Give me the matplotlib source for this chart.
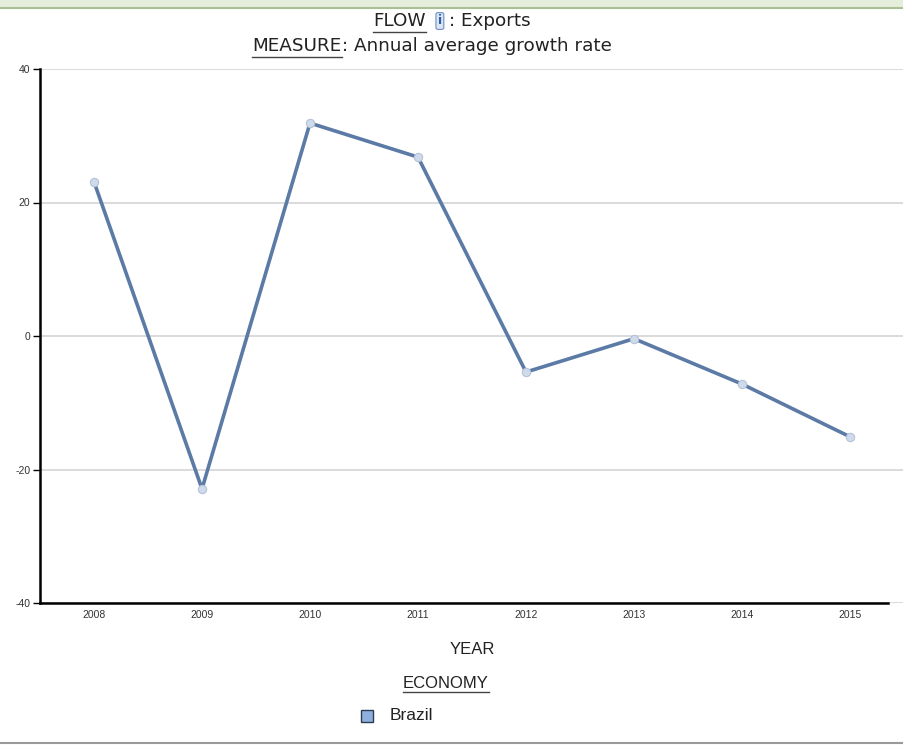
import numpy as np
import matplotlib.pyplot as plt
from matplotlib.patches import Rectangle
from matplotlib.lines import Line2D

plt.rcParams['axes.unicode_minus'] = False

# ---- data ----
years = [2008, 2009, 2010, 2011, 2012, 2013, 2014, 2015]
growth = [23.1, -22.9, 31.9, 26.8, -5.4, -0.4, -7.2, -15.1]
y_ticks = [-40, -20, 0, 20, 40]
series_name = "Brazil"

W, H = 904, 747
NARROW = ['Liberation Sans', 'DejaVu Sans']
fig = plt.figure(figsize=(W / 100, H / 100), dpi=100)
fig.patch.set_facecolor('white')

def px(x, y):
    return x / W, 1 - y / H

# green band at top, grey rule at bottom
fig.add_artist(Rectangle((0, 1 - 8 / H), 1, 8 / H, transform=fig.transFigure,
                         facecolor='#e4eedb', edgecolor='none'))
fig.add_artist(Line2D([0, 1], [1 - 8 / H] * 2, transform=fig.transFigure,
                      color='#a9bf96', lw=1.5))
fig.add_artist(Line2D([0, 1], [1 - 743 / H] * 2, transform=fig.transFigure,
                      color='#9a9a9a', lw=1.5))

ax = fig.add_axes([40 / W, 1 - 603 / H, 1 - 40 / W, (603 - 69) / H])
ax.plot(years, growth, color='#5b7aa6', lw=2.6, zorder=3,
        marker='o', ms=6, mfc='#cfdaea', mec='#b4c3d9', mew=0.8)
ax.set_xlim(2007.5, 2015.5)
ax.set_ylim(-40, 40)
ax.set_yticks(y_ticks)
ax.set_xticks(years)
ax.grid(axis='y', color='#d4d4d4', lw=1.2)
ax.set_axisbelow(True)
for s in ['top', 'right']:
    ax.spines[s].set_visible(False)
ax.spines['left'].set_linewidth(1.8)
ax.spines['bottom'].set_linewidth(1.8)
ax.spines['bottom'].set_bounds(2007.5, 2015.35)
ax.tick_params(axis='y', length=5, width=1, labelsize=7.5, pad=2, labelcolor='#333333')
ax.tick_params(axis='x', length=0, labelsize=7.5, pad=5, labelcolor='#333333')
for lab in ax.get_xticklabels() + ax.get_yticklabels():
    lab.set_family(NARROW)

fig.canvas.draw()
r = fig.canvas.get_renderer()
inv = fig.transFigure.inverted()

def underline(t):
    bb = t.get_window_extent(r).transformed(inv)
    fig.add_artist(Line2D([bb.x0, bb.x1], [bb.y0 - 1.5 / H] * 2, transform=fig.transFigure,
                          color='#444444', lw=1))

def header_line(parts, xc, y, fs=13.2):
    # parts: list of (text, underlined) or None for the info icon, left to right
    widths = []
    for p in parts:
        if p is None:
            widths.append(17)
            continue
        t = fig.text(0, 0, p[0], fontsize=fs)
        widths.append(t.get_window_extent(r).width)
        t.remove()
    x = xc - sum(widths) / 2
    for p, w in zip(parts, widths):
        if p is None:
            fig.text(*px(x + 8, y), "i", ha='center', va='center', fontsize=9,
                     color='#2d5fa8', fontweight='bold',
                     bbox=dict(boxstyle='round,pad=0.15', fc='#dbe6f5', ec='#6f8fc0', lw=0.8))
        else:
            t = fig.text(*px(x, y), p[0], ha='left', va='center', fontsize=fs, color='#222222')
            if p[1]:
                underline(t)
        x += w

header_line([("FLOW", True), (" ", False), None, (": Exports", False)], 452, 21)
header_line([("MEASURE", True), (": Annual average growth rate", False)], 432, 46)

fig.text(*px(472, 649), "YEAR", ha='center', va='center', fontsize=12,
         color='#222222', family=NARROW)
t3 = fig.text(*px(446, 683), "ECONOMY", ha='center', va='center', fontsize=12,
              color='#222222', family=NARROW)
underline(t3)

# legend
fig.add_artist(Rectangle(px(361, 722), 12 / W, 12 / H, transform=fig.transFigure,
                         facecolor='#8fb0dc', edgecolor='#2b3d55', lw=1))
fig.text(*px(390, 716), series_name, ha='left', va='center', fontsize=12.5,
         color='#222222', family=NARROW)

fig.savefig('out.png', dpi=100)
